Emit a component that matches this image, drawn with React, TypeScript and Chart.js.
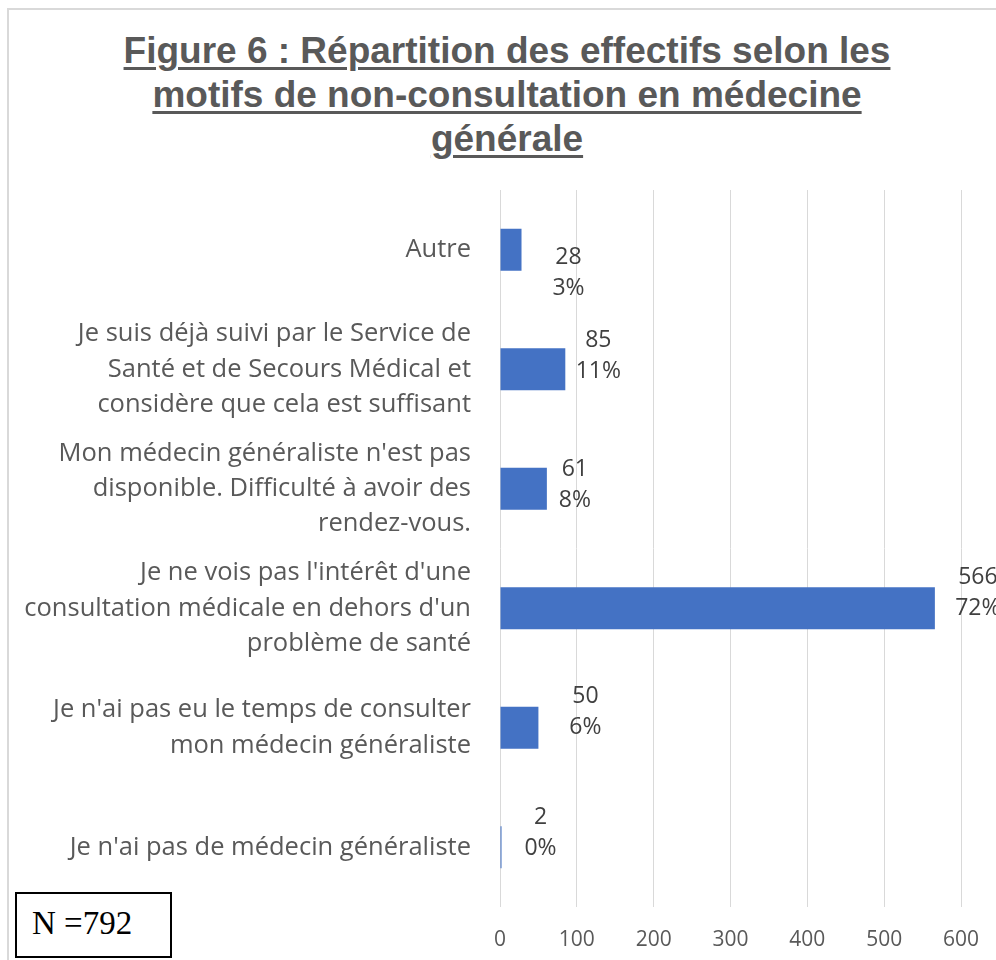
import React, { useEffect, useRef } from "react";
import { Chart, registerables } from "chart.js";

Chart.register(...registerables);

const titleLines = [
  "Figure 6 : Répartition des effectifs selon les",
  "motifs de non-consultation en médecine",
  "générale",
];

const categories: string[][] = [
  ["Autre"],
  ["Je suis déjà suivi par le Service de", "Santé et de Secours Médical et", "considère que cela est suffisant"],
  ["Mon médecin généraliste n'est pas", "disponible. Difficulté à avoir des", "rendez-vous."],
  ["Je ne vois pas l'intérêt d'une", "consultation médicale en dehors d'un", "problème de santé"],
  ["Je n'ai pas eu le temps de consulter", "mon médecin généraliste"],
  ["Je n'ai pas de médecin généraliste"],
];

const counts = [28, 85, 61, 566, 50, 2];
const percents = ["3%", "11%", "8%", "72%", "6%", "0%"];
const xTicks = [0, 100, 200, 300, 400, 500, 600];
const totalLabel = "N =792";

const labelOffsetX = [47, 33, 28, 43, 47, 39];
const labelOffsetY = [23, -13.5, -4, -15, -15.5, -14.5];

const dataLabelPlugin = {
  id: "dataLabels",
  afterDatasetsDraw(chart: any) {
    const ctx = chart.ctx;
    const meta = chart.getDatasetMeta(0);
    ctx.save();
    ctx.font = "23px 'Open Sans'";
    ctx.fillStyle = "#404040";
    ctx.textAlign = "center";
    ctx.textBaseline = "middle";
    meta.data.forEach((bar: any, i: number) => {
      const cx = bar.x + labelOffsetX[i];
      const cy = bar.y + labelOffsetY[i];
      ctx.fillText(String(counts[i]), cx, cy - 15.5);
      ctx.fillText(percents[i], cx, cy + 15.5);
    });
    ctx.restore();
  },
};

export default function App() {
  const canvasRef = useRef<HTMLCanvasElement>(null);

  useEffect(() => {
    if (!canvasRef.current) return;
    const chart = new Chart(canvasRef.current, {
      type: "bar",
      data: {
        labels: categories,
        datasets: [
          {
            data: counts,
            backgroundColor: "#4472C4",
            borderWidth: 0,
            categoryPercentage: 1,
            barPercentage: 0.35,
          },
        ],
      },
      options: {
        indexAxis: "y",
        animation: false,
        responsive: false,
        maintainAspectRatio: false,
        layout: { padding: { top: 190, right: 35, left: 0, bottom: 0 } },
        plugins: {
          legend: { display: false },
          title: { display: false },
          tooltip: { enabled: false },
        },
        scales: {
          x: {
            min: 0,
            max: 600,
            afterBuildTicks: (scale: any) => {
              scale.ticks = xTicks.map((v) => ({ value: v }));
            },
            afterFit: (scale: any) => {
              scale.height = 53;
              scale.paddingRight = 0;
              scale.paddingLeft = 0;
            },
            ticks: {
              font: { family: "'Open Sans'", size: 21 },
              color: "#595959",
              padding: 20,
            },
            grid: { color: "#d9d9d9", lineWidth: 1, drawTicks: false },
            border: { display: false },
          },
          y: {
            afterFit: (scale: any) => {
              scale.width = 500;
            },
            ticks: {
              font: { family: "'Open Sans'", size: 25.5, lineHeight: 1.38 },
              color: "#595959",
              padding: 29,
            },
            grid: { display: false, drawTicks: false },
            border: { display: false },
          },
        },
      },
      plugins: [dataLabelPlugin],
    });
    return () => chart.destroy();
  }, []);

  return (
    <div
      style={{
        position: "fixed",
        left: 0,
        top: 0,
        width: 996,
        height: 960,
        overflow: "hidden",
        background: "#ffffff",
      }}
    >
      <div
        style={{
          position: "absolute",
          left: 7,
          top: 8,
          width: 1100,
          height: 1100,
          border: "2px solid #d9d9d9",
          boxSizing: "border-box",
        }}
      />
      <div
        style={{
          position: "absolute",
          left: 20,
          width: 974,
          top: 29,
          textAlign: "center",
          fontFamily: "'Liberation Sans', Arial, sans-serif",
          fontWeight: "bold",
          fontSize: 37,
          lineHeight: "44px",
          color: "#595959",
          textDecoration: "underline",
          textDecorationThickness: "3px",
          textUnderlineOffset: "4px",
        }}
      >
        {titleLines.map((l, i) => (
          <div key={i}>{l}</div>
        ))}
      </div>
      <canvas
        ref={canvasRef}
        width={996}
        height={960}
        style={{ position: "absolute", left: 0, top: 0, width: 996, height: 960 }}
      />
      <div
        style={{
          position: "absolute",
          left: 15,
          top: 892,
          width: 157,
          height: 66,
          border: "2px solid #000000",
          boxSizing: "border-box",
          background: "#ffffff",
          fontFamily: "'Liberation Serif', 'Times New Roman', serif",
          fontSize: 33,
          lineHeight: "58px",
          paddingLeft: 15,
          color: "#000000",
        }}
      >
        {totalLabel}
      </div>
    </div>
  );
}
